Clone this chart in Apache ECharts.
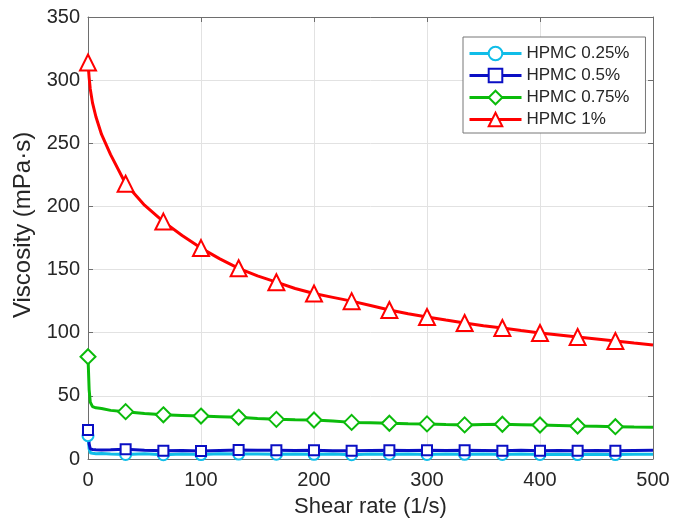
<!DOCTYPE html>
<html>
<head>
<meta charset="utf-8">
<script src="https://cdn.jsdelivr.net/npm/echarts@6/dist/echarts.min.js"></script>
<style>
  html, body { margin: 0; padding: 0; background: #fff; }
  #chart { width: 688px; height: 526px; }
</style>
</head>
<body>
<div id="chart"></div>
<script>
// Shear rate grid (1/s) shared by all four solutions
const shearRate = [0, 1, 2, 4, 7, 12, 20, 33.3, 50, 66.7, 83.3, 100, 116.7, 133.3, 150, 166.7,
  183.3, 200, 216.7, 233.3, 250, 266.7, 283.3, 300, 316.7, 333.3, 350, 366.7, 383.3, 400,
  416.7, 433.3, 450, 466.7, 483.3, 500];

// Shear rates that carry a marker
const markerRates = [0, 33.3, 66.7, 100, 133.3, 166.7, 200, 233.3, 266.7, 300, 333.3, 366.7,
  400, 433.3, 466.7];

// Viscosity (mPa·s)
const hpmc025 = [18.5, 8, 5, 4.5, 4.2, 4.3, 4.0, 3.6, 4.2, 3.4, 4.0, 3.5, 4.1, 3.9, 4.0, 3.8,
  4.0, 3.7, 4.0, 3.4, 3.9, 3.8, 4.0, 3.6, 3.9, 3.7, 3.9, 3.6, 3.9, 3.6, 3.8, 3.5, 3.8, 3.5, 3.7, 3.7];
const hpmc05 = [23, 12, 8, 7.5, 7.3, 7.2, 7.3, 7.7, 7.0, 6.6, 6.8, 6.3, 6.8, 7.1, 6.9, 6.9,
  6.8, 7.0, 6.5, 6.5, 6.8, 7.0, 6.8, 6.9, 6.7, 7.0, 6.8, 6.6, 7.0, 6.6, 6.8, 6.6, 6.7, 6.6, 6.8, 6.9];
const hpmc075 = [81, 55, 45, 41.5, 40.5, 40, 38.5, 37.5, 36, 35, 34.5, 34, 33.5, 33, 32, 31.4,
  31, 30.9, 30, 29, 28.7, 28.3, 28, 27.8, 27.3, 27, 27.3, 27.5, 27.2, 26.9, 26.5, 26.1, 25.9, 25.6, 25.3, 25.1];
const hpmc1 = [314, 302, 293, 282, 271, 257, 241, 218, 201, 188, 177, 167, 158.5, 151, 145, 140,
  135, 131, 128, 125, 121.5, 118, 115, 112.5, 110, 107.7, 105.5, 103.7, 101.7, 99.8, 98.2, 96.6, 95, 93.4, 91.8, 90.2];

const xTicks = [0, 100, 200, 300, 400, 500];
const yTicks = [0, 50, 100, 150, 200, 250, 300, 350];

const seriesDefs = [
  { name: 'HPMC 0.25%', values: hpmc025, color: '#10BDE8', symbol: 'emptyCircle', size: 11 },
  { name: 'HPMC 0.5%',  values: hpmc05,  color: '#0A0FC4', symbol: 'emptyRect', size: 10 },
  { name: 'HPMC 0.75%', values: hpmc075, color: '#0BBB0B', symbol: 'emptyDiamond', size: 15 },
  { name: 'HPMC 1%',    values: hpmc1,   color: '#FF0000', symbol: 'emptyTriangle', size: 16 }
];

const FONT = "'Liberation Sans', Arial, Helvetica, sans-serif";
const TEXT = '#262626';
const AXIS = '#6e6e6e';

function hasMarker(x) {
  return markerRates.some(m => Math.abs(m - x) < 0.05);
}

const series = seriesDefs.map(d => ({
  name: d.name,
  type: 'line',
  symbol: d.symbol,
  symbolSize: d.size,
  showAllSymbol: true,
  smooth: false,
  lineStyle: { color: d.color, width: 3 },
  itemStyle: { color: d.color, borderWidth: 2.2 },
  emphasis: { disabled: true },
  data: shearRate.map((x, i) => hasMarker(x)
    ? { value: [x, d.values[i]] }
    : { value: [x, d.values[i]], symbol: 'none' })
}));

const hiddenLabels = { show: false };
const innerTicks = { show: true, inside: true, length: 5, lineStyle: { color: AXIS } };

const option = {
  animation: false,
  backgroundColor: '#fff',
  grid: { left: 88, right: 35, top: 17, bottom: 67, containLabel: false },
  legend: {
    orient: 'vertical',
    left: 463,
    top: 37,
    padding: [8, 16, 5, 5],
    itemWidth: 52,
    itemHeight: 17,
    itemGap: 5,
    backgroundColor: '#fff',
    borderColor: '#777',
    borderWidth: 1,
    lineStyle: { width: 3 },
    itemStyle: { borderWidth: 2.2 },
    textStyle: { fontFamily: FONT, fontSize: 17, color: TEXT },
    data: seriesDefs.map(d => d.name)
  },
  xAxis: [{
    type: 'value',
    min: xTicks[0], max: xTicks[xTicks.length - 1], interval: 100,
    name: 'Shear rate (1/s)',
    nameLocation: 'middle',
    nameGap: 37,
    nameTextStyle: { fontFamily: FONT, fontSize: 22, color: TEXT },
    axisLine: { show: true, onZero: false, lineStyle: { color: AXIS, width: 1 } },
    axisTick: innerTicks,
    axisLabel: { fontFamily: FONT, fontSize: 20, color: TEXT, margin: 11 },
    splitLine: { show: true, lineStyle: { color: '#e2e2e2', width: 1 } }
  }, {
    type: 'value', position: 'top',
    min: xTicks[0], max: xTicks[xTicks.length - 1], interval: 100,
    axisLine: { show: true, onZero: false, lineStyle: { color: AXIS, width: 1 } },
    axisTick: innerTicks,
    axisLabel: hiddenLabels,
    splitLine: { show: false }
  }],
  yAxis: [{
    type: 'value',
    min: yTicks[0], max: yTicks[yTicks.length - 1], interval: 50,
    name: 'Viscosity (mPa·s)',
    nameLocation: 'middle',
    nameGap: 50,
    nameTextStyle: { fontFamily: FONT, fontSize: 24, color: TEXT, padding: [0, 0, 0, 26] },
    axisLine: { show: true, onZero: false, lineStyle: { color: AXIS, width: 1 } },
    axisTick: innerTicks,
    axisLabel: { fontFamily: FONT, fontSize: 20, color: TEXT, margin: 8 },
    splitLine: { show: true, lineStyle: { color: '#e2e2e2', width: 1 } }
  }, {
    type: 'value', position: 'right',
    min: yTicks[0], max: yTicks[yTicks.length - 1], interval: 50,
    axisLine: { show: true, onZero: false, lineStyle: { color: AXIS, width: 1 } },
    axisTick: innerTicks,
    axisLabel: hiddenLabels,
    splitLine: { show: false }
  }],
  series: series
};

const chart = echarts.init(document.getElementById('chart'), null, { renderer: 'canvas' });
chart.setOption(option);
</script>
</body>
</html>
